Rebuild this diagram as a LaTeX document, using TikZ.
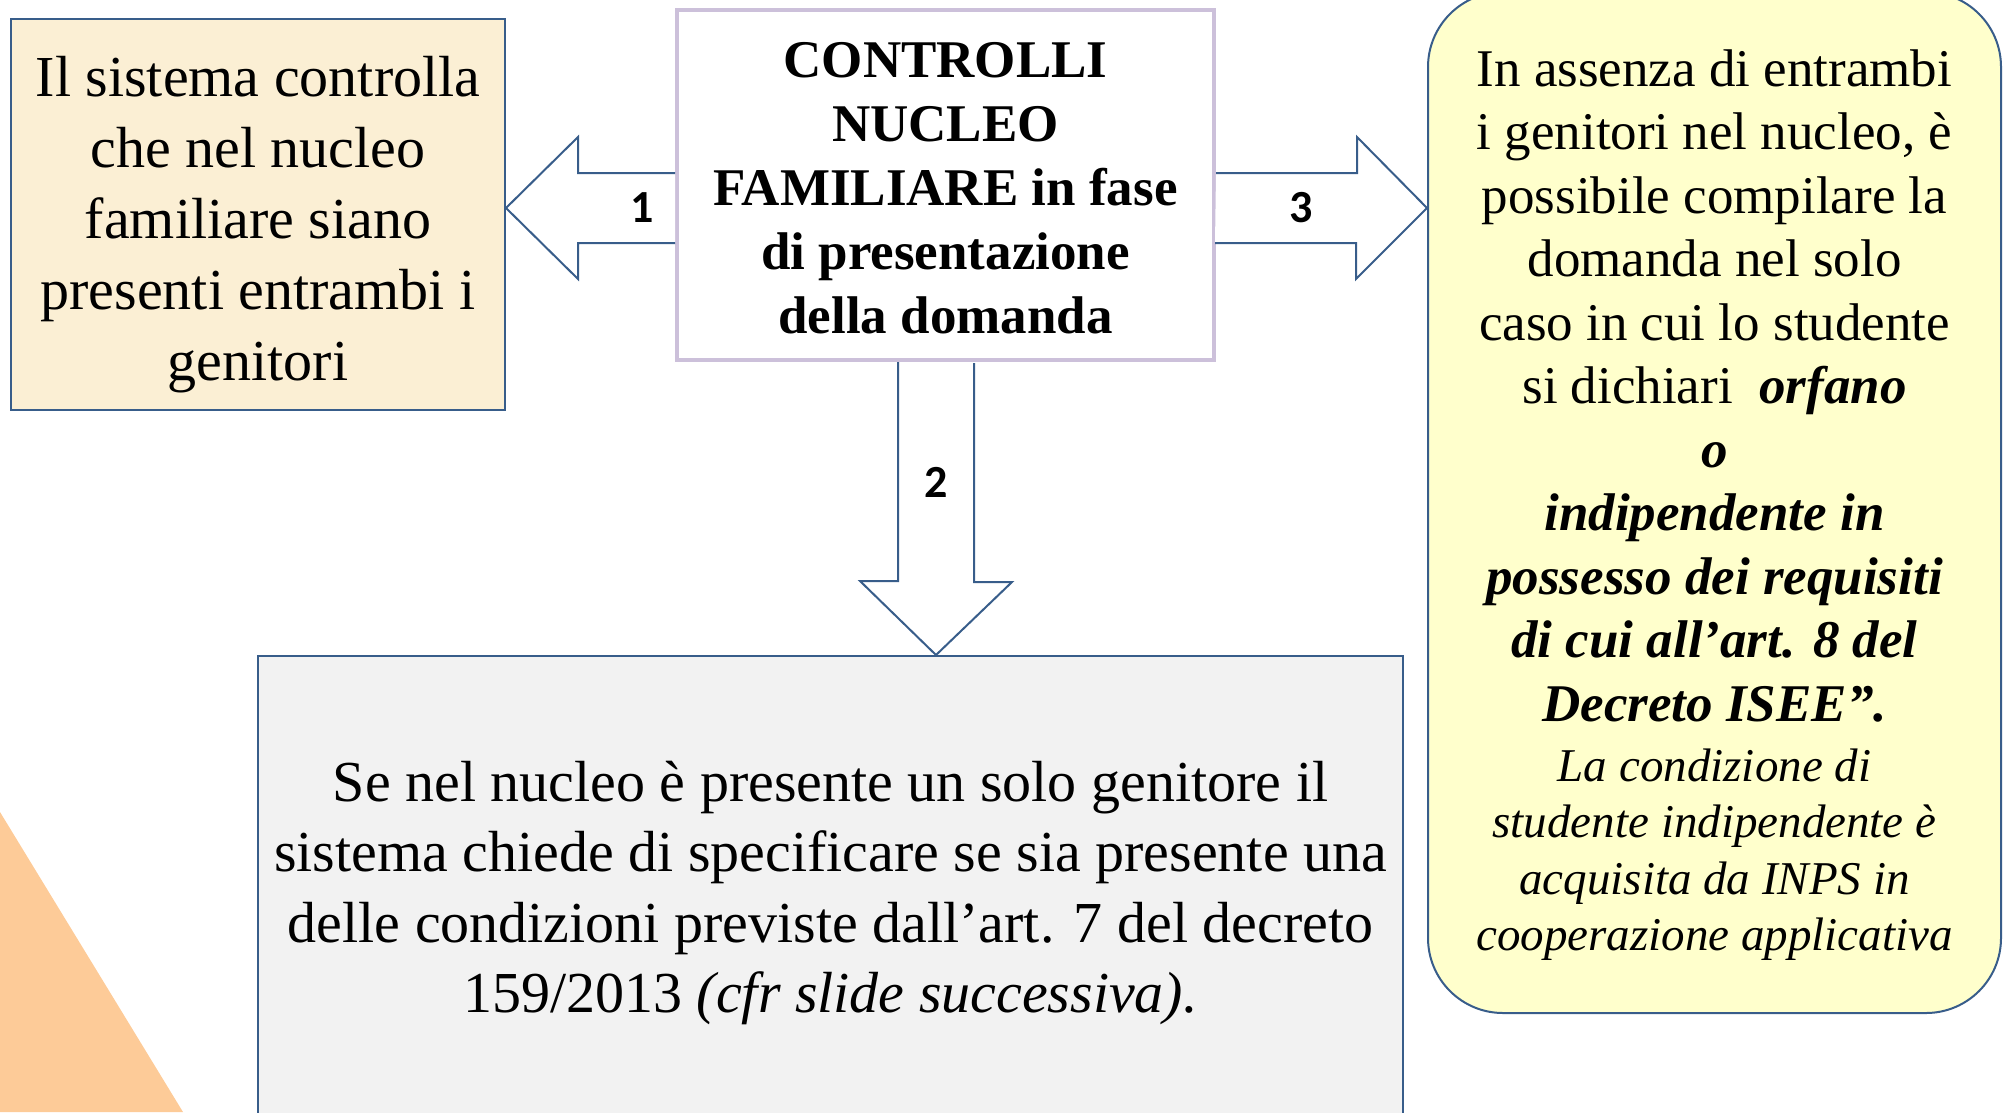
\documentclass[tikz,border=0pt]{standalone}
\usepackage{fontspec}
\setmainfont{Liberation Serif}
\newfontfamily\numfont{Carlito}
\usepackage{tikz}
\usetikzlibrary{positioning}
\definecolor{boxblue}{RGB}{56,93,138}
\definecolor{boxlilac}{RGB}{204,192,218}
\definecolor{boxtan}{RGB}{251,239,212}
\definecolor{boxyellow}{RGB}{255,255,204}
\definecolor{boxgrey}{RGB}{242,242,242}
\definecolor{peach}{RGB}{253,203,152}
\newcommand\smallit{\fontsize{47}{56.6}\selectfont\itshape} % italic note lines
\tikzset{x=1pt, y=-1pt,
every node/.style={align=center, inner sep=0pt},
plainbox/.style={ % Sets the properties for the square boxes
draw=boxblue,
line width=2pt},
roundbox/.style={ % The yellow box on the right
draw=boxblue,
line width=2pt,
fill=boxyellow,
rounded corners=75pt},
blockarrow/.style={ % Hollow arrows between boxes
draw=boxblue,
line width=2pt,
fill=white,
line join=miter},
numlabel/.style={font=\numfont\bfseries\fontsize{46}{55}\selectfont}}

\begin{document}
\begin{tikzpicture}
\useasboundingbox (0,0) rectangle (2004,1112);
\fill[peach] (0,812) -- (183,1112) -- (0,1112) -- cycle;
\node[plainbox, fill=boxtan, minimum width=494pt, minimum height=391pt,
  font=\fontsize{58}{71}\selectfont] (left) at (258,214.5)
  {\rule{0pt}{60pt}Il sistema controlla\\ che nel nucleo\\ familiare siano\\ presenti entrambi i\\ genitori};
\node[draw=boxlilac, line width=4pt, fill=white, minimum width=537pt, minimum height=350pt,
  font=\bfseries\fontsize{53}{64}\selectfont] (ctrl) at (945.5,185)
  {\rule{0pt}{41pt}CONTROLLI\\ NUCLEO\\ FAMILIARE in fase\\ di presentazione\\ della domanda};
\node[plainbox, fill=boxgrey, minimum width=1145pt, minimum height=474pt,
  font=\fontsize{58}{70.5}\selectfont] (single) at (830.5,893)
  {Se nel nucleo è presente un solo genitore il\\ sistema chiede di specificare se sia presente una\\
   delle condizioni previste dall’art. 7 del decreto\\ 159/2013 \textit{(cfr slide successiva).}};
\node[roundbox, minimum width=573pt, minimum height=1021pt,
  font=\fontsize{53}{63.5}\selectfont] (right) at (1714.5,502.5)
  {\rule{0pt}{42pt}In assenza di entrambi\\ i genitori nel nucleo, è\\ possibile compilare la\\ domanda nel solo\\
   caso in cui lo studente\\ si dichiari~ \textbf{\textit{orfano}}\\ \textbf{\textit{o}}\\
   \textbf{\textit{indipendente in}}\\ \textbf{\textit{possesso dei requisiti}}\\
   \textbf{\textit{di cui all’art. 8 del}}\\ \textbf{\textit{Decreto ISEE”.}}\\[-3.5pt]
   \smallit La condizione di\\[-7pt] \smallit studente indipendente è\\[-7pt]
   \smallit acquisita da INPS in\\[-7pt] \smallit cooperazione applicativa};
% rows and columns of the arrows
\coordinate (armrow) at (0,208);
\coordinate (armcol) at (936,0);
\coordinate (tipl) at (left.east |- armrow);
\coordinate (tipr) at (right.west |- armrow);
\coordinate (tipd) at (single.north -| armcol);
\draw[blockarrow] (ctrl.west |- armrow) ++(0,-35) -- ++(-97,0) -- ++(0,-36) -- (tipl)
  -- ++(72,71) -- ++(0,-36) -- ++(97,0);
\draw[blockarrow] (ctrl.east |- armrow) ++(0,-35) -- ++(141,0) -- ++(0,-36) -- (tipr)
  -- ++(-71,71) -- ++(0,-36) -- ++(-141,0);
\draw[blockarrow] (ctrl.south -| armcol) ++(-38,0) -- ++(0,219) -- ++(-38,0) -- (tipd)
  -- ++(76,-73) -- ++(-38,0) -- ++(0,-219);
\node[numlabel] (n1) at (642,208) {1};
\node[numlabel] (n2) at (936,482) {2};
\node[numlabel] (n3) at (1301,208) {3};
\end{tikzpicture}
\end{document}
